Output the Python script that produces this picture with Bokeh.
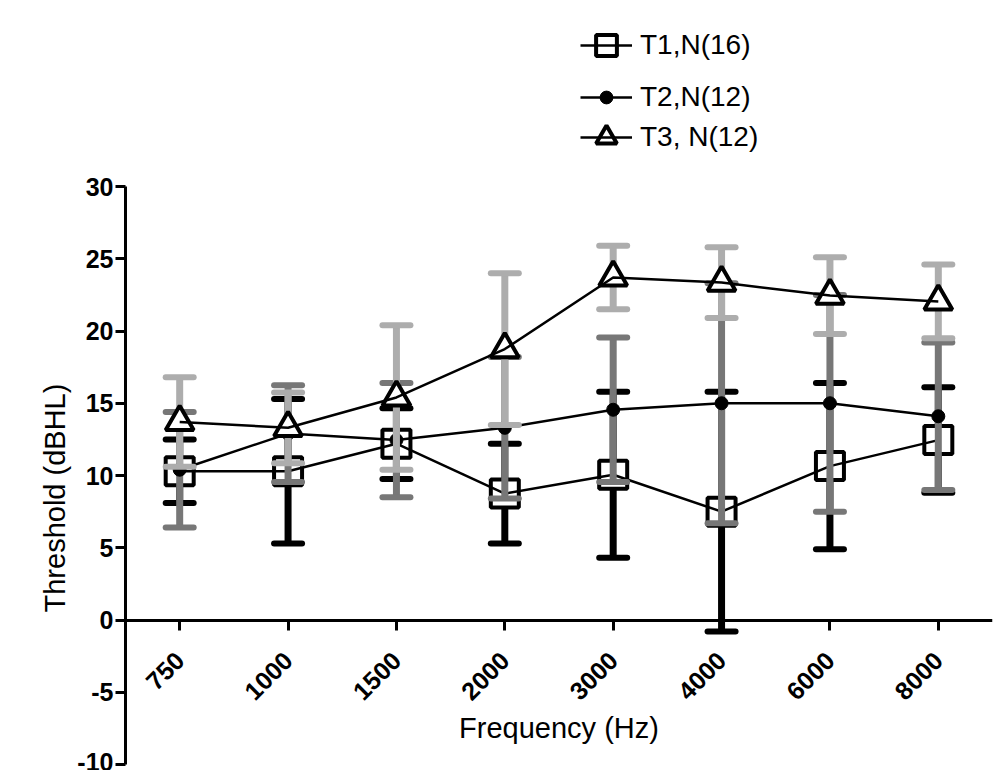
from math import pi
from bokeh.plotting import figure
from bokeh.models import (ColumnDataSource, FixedTicker, Legend, LegendItem, Range1d,
                          FactorRange, Title)
from bokeh.embed import file_html
from bokeh.resources import INLINE

freqs = ["750", "1000", "1500", "2000", "3000", "4000", "6000", "8000"]

t1_mean = [10.3, 10.3, 12.2, 8.75, 10.05, 7.5, 10.65, 12.45]
t1_sd = [2.2, 5.0, 2.45, 3.45, 5.75, 8.3, 5.75, 3.65]

t2_mean = [10.4, 12.9, 12.45, 13.3, 14.55, 15.0, 15.0, 14.1]
t2_sd = [4.0, 3.35, 3.95, 4.9, 5.0, 8.3, 7.5, 5.1]

t3_mean = [13.7, 13.3, 15.4, 18.75, 23.7, 23.35, 22.45, 22.05]
t3_sd = [3.1, 2.45, 5.0, 5.25, 2.2, 2.45, 2.65, 2.55]

labels = ["T1,N(16)", "T2,N(12)", "T3, N(12)"]
markers = ["square", "circle", "triangle"]
bar_colors = ["#000000", "#777777", "#ADADAD"]
y_ticks = [-10, -5, 0, 5, 10, 15, 20, 25, 30]
y_axis_min, y_axis_max = -10, 30

FONT = "Liberation Sans"

# frame spans 754 px; the -10..30 axis occupies its lower 578 px,
# leaving headroom at the top for the legend
FRAME_H, AXIS_H = 754, 578
y_end = y_axis_min + (y_axis_max - y_axis_min) * FRAME_H / AXIS_H

p = figure(
    x_range=FactorRange(*freqs),
    y_range=Range1d(y_axis_min, y_end),
    width=993, height=770,
    output_backend="svg", toolbar_location=None,
    min_border_left=125, min_border_right=1,
    min_border_top=10, min_border_bottom=6,
)
p.outline_line_color = None
p.grid.visible = False
p.background_fill_color = "white"
p.border_fill_color = "white"

for ax in (p.xaxis[0], p.yaxis[0]):
    ax.axis_line_width = 3
    ax.axis_line_color = "black"
    ax.major_tick_line_width = 3
    ax.major_tick_line_color = "black"
    ax.major_tick_out = 10
    ax.major_tick_in = 0
    ax.minor_tick_line_color = None
    ax.major_label_text_font = FONT
    ax.major_label_text_font_style = "bold"
    ax.major_label_text_font_size = "25px"
    ax.major_label_text_color = "black"
    ax.axis_label_text_font = FONT
    ax.axis_label_text_font_style = "normal"
    ax.axis_label_text_font_size = "29px"
    ax.axis_label_text_color = "black"

p.yaxis.ticker = FixedTicker(ticks=y_ticks)
p.yaxis.bounds = (y_axis_min, y_axis_max)
p.yaxis.major_label_overrides = {t: str(t) for t in y_ticks}
p.yaxis.major_label_standoff = 2

# y-axis title, placed along the -10..30 axis rather than the taller frame
p.add_layout(Title(text="Threshold (dBHL)", align="left", offset=152, standoff=8,
                   text_font=FONT, text_font_size="29px", text_font_style="normal",
                   text_color="black"), "left")

p.xaxis.fixed_location = 0
p.xaxis.axis_label = "Frequency (Hz)"
p.xaxis.major_label_orientation = pi / 4
p.xaxis.major_label_standoff = 26
p.xaxis.axis_label_standoff = 0

series = [(t1_mean, t1_sd), (t2_mean, t2_sd), (t3_mean, t3_sd)]
legend_renderers = []
for i, (m, s) in enumerate(series):
    src = ColumnDataSource(dict(
        f=freqs, m=m,
        lo=[a - b for a, b in zip(m, s)],
        hi=[a + b for a, b in zip(m, s)],
    ))
    c = bar_colors[i]
    p.segment(x0="f", y0="lo", x1="f", y1="hi", source=src, line_color=c, line_width=7)
    p.scatter(x="f", y="lo", source=src, marker="dash", size=28, line_color=c,
              line_width=6, line_cap="round")
    p.scatter(x="f", y="hi", source=src, marker="dash", size=28, line_color=c,
              line_width=6, line_cap="round")
    if markers[i] == "circle":
        mk = p.scatter(x="f", y="m", source=src, marker="circle", size=13,
                       fill_color="black", line_color="black", line_width=1)
    else:
        mk = p.scatter(x="f", y="m", source=src, marker=markers[i], size=28,
                       fill_color="white", line_color="black", line_width=4)
    ln = p.line(x="f", y="m", source=src, line_color="black", line_width=2.5)
    legend_renderers.append([mk, ln])

# one legend per entry so each keeps its own symbol size and vertical place
legend_specs = [(52, 693), (32, 651), (52, 601)]  # (glyph height, bottom above frame bottom)
for i, (gh, vy) in enumerate(legend_specs):
    lg = Legend(
        items=[LegendItem(label=labels[i], renderers=legend_renderers[i])],
        location=(455, vy),
        glyph_width=52, glyph_height=gh, label_height=30,
        spacing=0, padding=0, margin=0, label_standoff=8,
        label_text_font=FONT, label_text_font_size="28px", label_text_color="black",
        border_line_color=None, background_fill_alpha=0,
    )
    p.add_layout(lg, "center")

open("out.html", "w").write(file_html(p, INLINE))
